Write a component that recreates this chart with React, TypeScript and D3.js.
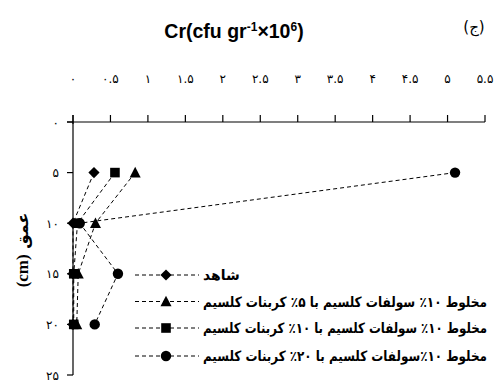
import React from "react";
import * as d3 from "d3";

const depths = [5, 10, 15, 20];
const controlVals = [0.28, 0.0, 0.0, 0.0];
const mix5Vals = [0.83, 0.3, 0.07, 0.05];
const mix10Vals = [0.56, 0.06, 0.01, 0.01];
const mix20Vals = [5.1, 0.09, 0.6, 0.29];

const xTicks = [0, 0.5, 1, 1.5, 2, 2.5, 3, 3.5, 4, 4.5, 5, 5.5];
const xTickLabels = ["۰", "۰.۵", "۱", "۱.۵", "۲", "۲.۵", "۳", "۳.۵", "۴", "۴.۵", "۵", "۵.۵"];
const yTicks = [0, 5, 10, 15, 20, 25];
const yTickLabels = ["۰", "۵", "۱۰", "۱۵", "۲۰", "۲۵"];

const legendLabels = [
  "شاهد",
  "مخلوط ۱۰٪ سولفات کلسیم با ۵٪ کربنات کلسیم",
  "مخلوط ۱۰٪ سولفات کلسیم با ۱۰٪ کربنات کلسیم",
  "مخلوط ۱۰٪سولفات کلسیم با ۲۰٪ کربنات کلسیم",
];

const seriesList = [
  { name: "control", values: controlVals, shape: "diamond", label: legendLabels[0] },
  { name: "mix5", values: mix5Vals, shape: "triangle", label: legendLabels[1] },
  { name: "mix10", values: mix10Vals, shape: "square", label: legendLabels[2] },
  { name: "mix20", values: mix20Vals, shape: "circle", label: legendLabels[3] },
];

function markerPath(shape: string, cx: number, cy: number): string {
  if (shape === "diamond") {
    const r = 5.6;
    return `M${cx},${cy - r}L${cx + r},${cy}L${cx},${cy + r}L${cx - r},${cy}Z`;
  }
  if (shape === "square") {
    const h = 4.8;
    return `M${cx - h},${cy - h}H${cx + h}V${cy + h}H${cx - h}Z`;
  }
  if (shape === "triangle") {
    const w = 5.5;
    return `M${cx},${cy - 5.8}L${cx + w},${cy + 4.8}L${cx - w},${cy + 4.8}Z`;
  }
  const r = 5.2;
  return `M${cx - r},${cy}a${r},${r} 0 1,0 ${2 * r},0a${r},${r} 0 1,0 ${-2 * r},0Z`;
}

export default function App() {
  const W = 496;
  const H = 383;
  const x = d3.scaleLinear().domain([0, 5.5]).range([73, 485]);
  const y = d3.scaleLinear().domain([0, 25]).range([122, 375]);
  const line = d3
    .line<[number, number]>()
    .x((d) => x(d[0]))
    .y((d) => y(d[1]));

  const legendY = [275, 301.5, 328, 356];
  const numFont = "'DejaVu Sans', sans-serif";

  return (
    <svg
      width={W}
      height={H}
      style={{ position: "absolute", left: 0, top: 0, background: "#fff" }}
    >
      <rect x={0} y={0} width={W} height={H} fill="#fff" />
      {/* Title */}
      <text
        x={234}
        y={38}
        textAnchor="middle"
        fontFamily="'Liberation Sans', Arial, sans-serif"
        fontWeight="bold"
        fontSize={19.5}
      >
        Cr(cfu gr
        <tspan dy={-7} fontSize={12}>-1</tspan>
        <tspan dy={7}>×10</tspan>
        <tspan dy={-7} fontSize={12}>6</tspan>
        <tspan dy={7}>)</tspan>
      </text>
      <text
        x={474}
        y={32}
        textAnchor="middle"
        fontFamily={numFont}
        fontSize={15}
      >
        (ج)
      </text>

      {/* X axis (top) */}
      <line x1={67} x2={x(5.5)} y1={y(0)} y2={y(0)} stroke="#000" strokeWidth={1.2} />
      {xTicks.map((t, i) => (
        <g key={"xt" + i}>
          <line x1={x(t)} x2={x(t)} y1={y(0) - 7} y2={y(0) + (i === 0 ? 2 : 0)} stroke="#000" strokeWidth={1.2} />
          <text
            x={x(t)}
            y={83}
            textAnchor="middle"
            fontFamily={numFont}
            fontSize={12}
          >
            {xTickLabels[i]}
          </text>
        </g>
      ))}

      {/* Y axis */}
      <line x1={x(0)} x2={x(0)} y1={y(0) - 7} y2={y(25)} stroke="#000" strokeWidth={1.2} />
      {yTicks.map((t, i) => (
        <g key={"yt" + i}>
          <line x1={67} x2={x(0)} y1={y(t)} y2={y(t)} stroke="#000" strokeWidth={1.2} />
          <text
            x={59}
            y={y(t) + 4.5}
            textAnchor="end"
            fontFamily={numFont}
            fontSize={12}
          >
            {yTickLabels[i]}
          </text>
        </g>
      ))}

      {/* Y axis label */}
      <text
        transform={`translate(28,250) rotate(-90)`}
        textAnchor="middle"
        fontWeight="bold"
      >
        <tspan fontFamily="'Liberation Serif', 'Times New Roman', serif" fontSize={17}>(cm)</tspan>
        <tspan fontFamily={numFont} fontSize={16}>{"   عمق"}</tspan>
      </text>

      {/* Series lines */}
      {seriesList.map((s) => (
        <path
          key={"l" + s.name}
          d={line(s.values.map((v, i) => [v, depths[i]] as [number, number])) || ""}
          fill="none"
          stroke="#000"
          strokeWidth={1}
          strokeDasharray="4,3"
        />
      ))}
      {/* Markers */}
      {[...seriesList].reverse().map((s) =>
        s.values.map((v, i) => (
          <path key={"m" + s.name + i} d={markerPath(s.shape, x(v), y(depths[i]))} fill="#000" />
        ))
      )}

      {/* Legend */}
      {seriesList.map((s, i) => (
        <g key={"lg" + s.name}>
          <line
            x1={135}
            x2={199}
            y1={legendY[i]}
            y2={legendY[i]}
            stroke="#000"
            strokeWidth={1}
            strokeDasharray="4,3"
          />
          <path d={markerPath(s.shape, 166, legendY[i])} fill="#000" />
          <text
            x={203}
            y={legendY[i] + 5}
            direction="rtl"
            textAnchor="end"
            fontFamily={numFont}
            fontWeight="bold"
            fontSize={14}
            {...(i > 0 ? { textLength: 284, lengthAdjust: "spacingAndGlyphs" } : {})}
          >
            {s.label}
          </text>
        </g>
      ))}
    </svg>
  );
}
